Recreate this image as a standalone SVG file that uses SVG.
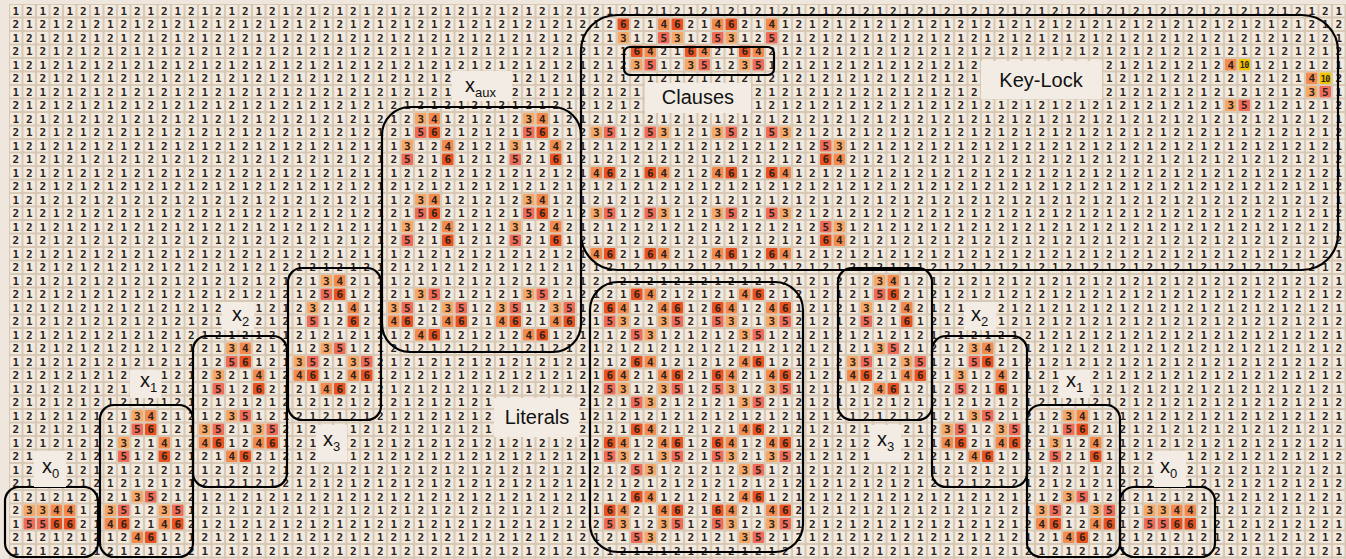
<svg xmlns="http://www.w3.org/2000/svg" width="1346" height="559" viewBox="0 0 1346 559">
<style>
.bg{fill:#efe7dd}
.gap{fill:#d7c8b5}
.cell{fill:#f2eadf}
.k3{fill:#f7a866}.k4{fill:#f48a4c}.k5{fill:#f06b58}.k6{fill:#ec5220}.k10{fill:#eec400}
.g{font-family:"DejaVu Sans Mono",monospace;font-size:11px;font-weight:bold;fill:#2b231c;letter-spacing:6.8774px;white-space:pre}
.e{letter-spacing:0}
.ten{font-family:"DejaVu Sans Mono",monospace;font-size:8.5px;font-weight:bold;fill:#2b231c;text-anchor:middle;letter-spacing:-0.6px}
.box{fill:none;stroke:#000;stroke-width:2.2}
.bd{fill:#f3ece4}
.lb{font-family:"Liberation Sans",Arial,sans-serif;font-size:20px;fill:#111}
.mid{text-anchor:middle}
.sub{font-size:13px}
</style>
<defs>
<pattern id="grid" x="9" y="4" width="13.5" height="13.5" patternUnits="userSpaceOnUse">
<rect x="1" y="1" width="11.5" height="11.5" rx="1" class="cell"/>
</pattern>
<g id="pin">
<rect class="k3" x="28" y="1" width="11.5" height="11.5" rx="1"/>
<rect class="k4" x="41.5" y="1" width="11.5" height="11.5" rx="1"/>
<rect class="k5" x="28" y="14.5" width="11.5" height="11.5" rx="1"/>
<rect class="k6" x="41.5" y="14.5" width="11.5" height="11.5" rx="1"/>
<rect class="k3" x="14.5" y="28" width="11.5" height="11.5" rx="1"/>
<rect class="k4" x="55" y="28" width="11.5" height="11.5" rx="1"/>
<rect class="k5" x="14.5" y="41.5" width="11.5" height="11.5" rx="1"/>
<rect class="k6" x="55" y="41.5" width="11.5" height="11.5" rx="1"/>
</g>
<g id="pout">
<rect class="k3" x="28" y="1" width="11.5" height="11.5" rx="1"/>
<rect class="k5" x="41.5" y="1" width="11.5" height="11.5" rx="1"/>
<rect class="k3" x="1" y="14.5" width="11.5" height="11.5" rx="1"/>
<rect class="k5" x="14.5" y="14.5" width="11.5" height="11.5" rx="1"/>
<rect class="k3" x="55" y="14.5" width="11.5" height="11.5" rx="1"/>
<rect class="k5" x="68.5" y="14.5" width="11.5" height="11.5" rx="1"/>
<rect class="k4" x="1" y="28" width="11.5" height="11.5" rx="1"/>
<rect class="k6" x="14.5" y="28" width="11.5" height="11.5" rx="1"/>
<rect class="k4" x="55" y="28" width="11.5" height="11.5" rx="1"/>
<rect class="k6" x="68.5" y="28" width="11.5" height="11.5" rx="1"/>
<rect class="k4" x="28" y="41.5" width="11.5" height="11.5" rx="1"/>
<rect class="k6" x="41.5" y="41.5" width="11.5" height="11.5" rx="1"/>
</g>
<g id="pla">
<rect class="k6" x="28" y="1" width="11.5" height="11.5" rx="1"/>
<rect class="k4" x="41.5" y="1" width="11.5" height="11.5" rx="1"/>
<rect class="k6" x="1" y="14.5" width="11.5" height="11.5" rx="1"/>
<rect class="k4" x="14.5" y="14.5" width="11.5" height="11.5" rx="1"/>
<rect class="k4" x="55" y="14.5" width="11.5" height="11.5" rx="1"/>
<rect class="k6" x="68.5" y="14.5" width="11.5" height="11.5" rx="1"/>
<rect class="k5" x="1" y="28" width="11.5" height="11.5" rx="1"/>
<rect class="k3" x="14.5" y="28" width="11.5" height="11.5" rx="1"/>
<rect class="k3" x="55" y="28" width="11.5" height="11.5" rx="1"/>
<rect class="k5" x="68.5" y="28" width="11.5" height="11.5" rx="1"/>
<rect class="k5" x="28" y="41.5" width="11.5" height="11.5" rx="1"/>
<rect class="k3" x="41.5" y="41.5" width="11.5" height="11.5" rx="1"/>
</g>
<g id="plb">
<rect class="k4" x="28" y="1" width="11.5" height="11.5" rx="1"/>
<rect class="k6" x="41.5" y="1" width="11.5" height="11.5" rx="1"/>
<rect class="k6" x="1" y="14.5" width="11.5" height="11.5" rx="1"/>
<rect class="k4" x="14.5" y="14.5" width="11.5" height="11.5" rx="1"/>
<rect class="k4" x="55" y="14.5" width="11.5" height="11.5" rx="1"/>
<rect class="k6" x="68.5" y="14.5" width="11.5" height="11.5" rx="1"/>
<rect class="k5" x="1" y="28" width="11.5" height="11.5" rx="1"/>
<rect class="k3" x="14.5" y="28" width="11.5" height="11.5" rx="1"/>
<rect class="k3" x="55" y="28" width="11.5" height="11.5" rx="1"/>
<rect class="k5" x="68.5" y="28" width="11.5" height="11.5" rx="1"/>
<rect class="k3" x="28" y="41.5" width="11.5" height="11.5" rx="1"/>
<rect class="k5" x="41.5" y="41.5" width="11.5" height="11.5" rx="1"/>
</g>
<g id="px0">
<rect class="k3" x="14.5" y="1" width="11.5" height="11.5" rx="1"/>
<rect class="k3" x="28" y="1" width="11.5" height="11.5" rx="1"/>
<rect class="k4" x="41.5" y="1" width="11.5" height="11.5" rx="1"/>
<rect class="k4" x="55" y="1" width="11.5" height="11.5" rx="1"/>
<rect class="k5" x="14.5" y="14.5" width="11.5" height="11.5" rx="1"/>
<rect class="k5" x="28" y="14.5" width="11.5" height="11.5" rx="1"/>
<rect class="k6" x="41.5" y="14.5" width="11.5" height="11.5" rx="1"/>
<rect class="k6" x="55" y="14.5" width="11.5" height="11.5" rx="1"/>
</g>
<g id="pcl">
<rect class="k6" x="1" y="1" width="11.5" height="11.5" rx="1"/>
<rect class="k4" x="41.5" y="1" width="11.5" height="11.5" rx="1"/>
<rect class="k3" x="1" y="14.5" width="11.5" height="11.5" rx="1"/>
<rect class="k5" x="41.5" y="14.5" width="11.5" height="11.5" rx="1"/>
<rect class="k6" x="14.5" y="28" width="11.5" height="11.5" rx="1"/>
<rect class="k4" x="28" y="28" width="11.5" height="11.5" rx="1"/>
<rect class="k3" x="14.5" y="41.5" width="11.5" height="11.5" rx="1"/>
<rect class="k5" x="28" y="41.5" width="11.5" height="11.5" rx="1"/>
</g>
<g id="pkc">
<rect class="k3" x="1" y="1" width="11.5" height="11.5" rx="1"/>
<rect class="k5" x="14.5" y="1" width="11.5" height="11.5" rx="1"/>
<rect class="k5" x="55" y="1" width="11.5" height="11.5" rx="1"/>
<rect class="k3" x="68.5" y="1" width="11.5" height="11.5" rx="1"/>
<rect class="k3" x="122.5" y="1" width="11.5" height="11.5" rx="1"/>
<rect class="k5" x="136" y="1" width="11.5" height="11.5" rx="1"/>
<rect class="k5" x="176.5" y="1" width="11.5" height="11.5" rx="1"/>
<rect class="k3" x="190" y="1" width="11.5" height="11.5" rx="1"/>
<rect class="k5" x="230.5" y="14.5" width="11.5" height="11.5" rx="1"/>
<rect class="k3" x="244" y="14.5" width="11.5" height="11.5" rx="1"/>
<rect class="k6" x="230.5" y="28" width="11.5" height="11.5" rx="1"/>
<rect class="k4" x="244" y="28" width="11.5" height="11.5" rx="1"/>
<rect class="k4" x="1" y="41.5" width="11.5" height="11.5" rx="1"/>
<rect class="k6" x="14.5" y="41.5" width="11.5" height="11.5" rx="1"/>
<rect class="k6" x="55" y="41.5" width="11.5" height="11.5" rx="1"/>
<rect class="k4" x="68.5" y="41.5" width="11.5" height="11.5" rx="1"/>
<rect class="k4" x="122.5" y="41.5" width="11.5" height="11.5" rx="1"/>
<rect class="k6" x="136" y="41.5" width="11.5" height="11.5" rx="1"/>
<rect class="k6" x="176.5" y="41.5" width="11.5" height="11.5" rx="1"/>
<rect class="k4" x="190" y="41.5" width="11.5" height="11.5" rx="1"/>
</g>
</defs>
<rect x="0" y="0" width="1346" height="559" class="bg"/>
<rect x="9" y="4" width="1337" height="555" class="gap"/>
<rect x="9" y="4" width="1337" height="555" fill="url(#grid)"/>
<g id="cells">
<use href="#pin" x="387" y="112"/><use href="#pin" x="495" y="112"/>
<use href="#pin" x="387" y="193"/><use href="#pin" x="495" y="193"/>
<use href="#pout" x="387" y="287.5"/><use href="#pout" x="495" y="287.5"/>
<use href="#pin" x="292.5" y="274"/><use href="#pout" x="292.5" y="341.5"/>
<use href="#pin" x="198" y="341.5"/><use href="#pout" x="198" y="409"/>
<use href="#pin" x="103.5" y="409"/><use href="#pout" x="103.5" y="490"/>
<use href="#px0" x="9" y="503.5"/>
<use href="#pin" x="846" y="274"/><use href="#pout" x="846" y="341.5"/>
<use href="#pin" x="940.5" y="341.5"/><use href="#pout" x="940.5" y="409"/>
<use href="#pin" x="1035" y="409"/><use href="#pout" x="1035" y="490"/>
<use href="#px0" x="1129.5" y="503.5"/>
<use href="#pcl" x="616.5" y="17.5"/><use href="#pcl" x="670.5" y="17.5"/><use href="#pcl" x="724.5" y="17.5"/>
<use href="#pkc" x="589.5" y="125.5"/><use href="#pkc" x="589.5" y="206.5"/>
<use href="#pla" x="603" y="287.5"/><use href="#plb" x="711" y="287.5"/>
<use href="#pla" x="603" y="355"/><use href="#plb" x="711" y="355"/>
<use href="#pla" x="603" y="422.5"/><use href="#plb" x="711" y="422.5"/>
<use href="#pla" x="603" y="490"/><use href="#plb" x="711" y="490"/>
<rect class="k4" x="1225" y="59" width="11.5" height="11.5" rx="1"/>
<rect class="k10" x="1238.5" y="59" width="11.5" height="11.5" rx="1"/>
<rect class="k4" x="1306" y="72.5" width="11.5" height="11.5" rx="1"/>
<rect class="k10" x="1319.5" y="72.5" width="11.5" height="11.5" rx="1"/>
<rect class="k3" x="1306" y="86" width="11.5" height="11.5" rx="1"/>
<rect class="k5" x="1319.5" y="86" width="11.5" height="11.5" rx="1"/>
<rect class="k3" x="1225" y="99.5" width="11.5" height="11.5" rx="1"/>
<rect class="k5" x="1238.5" y="99.5" width="11.5" height="11.5" rx="1"/>
</g>
<g id="digits" class="g">
<text y="14.75"><tspan x="12.44">1212121212</tspan><tspan x="147.44">1212121212</tspan><tspan x="282.44">1212121212</tspan><tspan x="417.44">1212121212</tspan><tspan x="552.44">1212121212</tspan><tspan x="687.44">1212121212</tspan><tspan x="822.44">1212121212</tspan><tspan x="957.44">1212121212</tspan><tspan x="1092.44">1212121212</tspan><tspan x="1227.44">12121212</tspan><tspan class="e" x="1335.44">1</tspan></text>
<text y="28.25"><tspan x="12.44">2121212121</tspan><tspan x="147.44">2121212121</tspan><tspan x="282.44">2121212121</tspan><tspan x="417.44">2121212121</tspan><tspan x="552.44">2121262146</tspan><tspan x="687.44">2146214121</tspan><tspan x="822.44">2121212121</tspan><tspan x="957.44">2121212121</tspan><tspan x="1092.44">2121212121</tspan><tspan x="1227.44">21212121</tspan><tspan class="e" x="1335.44">2</tspan></text>
<text y="41.75"><tspan x="12.44">1212121212</tspan><tspan x="147.44">1212121212</tspan><tspan x="282.44">1212121212</tspan><tspan x="417.44">1212121212</tspan><tspan x="552.44">1212131253</tspan><tspan x="687.44">1253125212</tspan><tspan x="822.44">1212121212</tspan><tspan x="957.44">1212121212</tspan><tspan x="1092.44">1212121212</tspan><tspan x="1227.44">12121212</tspan><tspan class="e" x="1335.44">1</tspan></text>
<text y="55.25"><tspan x="12.44">2121212121</tspan><tspan x="147.44">2121212121</tspan><tspan x="282.44">2121212121</tspan><tspan x="417.44">2121212121</tspan><tspan x="552.44">2121216421</tspan><tspan x="687.44">6421642121</tspan><tspan x="822.44">2121212121</tspan><tspan x="957.44">2121212121</tspan><tspan x="1092.44">2121212121</tspan><tspan x="1227.44">21212121</tspan><tspan class="e" x="1335.44">2</tspan></text>
<text y="68.75"><tspan x="12.44">1212121212</tspan><tspan x="147.44">1212121212</tspan><tspan x="282.44">1212121212</tspan><tspan x="417.44">1212121212</tspan><tspan x="552.44">1212123512</tspan><tspan x="687.44">3512351212</tspan><tspan x="822.44">1212121212</tspan><tspan x="957.44">12</tspan><tspan x="1105.94">212121212</tspan><tspan x="1227.44">4</tspan><tspan x="1254.44">121212</tspan><tspan class="e" x="1335.44">1</tspan></text>
<text y="82.25"><tspan x="12.44">2121212121</tspan><tspan x="147.44">2121212121</tspan><tspan x="282.44">2121212121</tspan><tspan x="417.44">212</tspan><tspan x="511.94">121</tspan><tspan x="552.44">2121212121</tspan><tspan x="687.44">2121212121</tspan><tspan x="822.44">2121212121</tspan><tspan x="957.44">21</tspan><tspan x="1105.94">121212121</tspan><tspan x="1227.44">2121214</tspan><tspan class="e" x="1335.44">2</tspan></text>
<text y="95.75"><tspan x="12.44">1212121212</tspan><tspan x="147.44">1212121212</tspan><tspan x="282.44">1212121212</tspan><tspan x="417.44">121</tspan><tspan x="511.94">212</tspan><tspan x="552.44">1212121</tspan><tspan x="754.94">21212</tspan><tspan x="822.44">1212121212</tspan><tspan x="957.44">12</tspan><tspan x="1105.94">212121212</tspan><tspan x="1227.44">12121235</tspan><tspan class="e" x="1335.44">1</tspan></text>
<text y="109.25"><tspan x="12.44">2121212121</tspan><tspan x="147.44">2121212121</tspan><tspan x="282.44">2121212121</tspan><tspan x="417.44">2121212121</tspan><tspan x="552.44">2121212</tspan><tspan x="754.94">12121</tspan><tspan x="822.44">2121212121</tspan><tspan x="957.44">2121212121</tspan><tspan x="1092.44">2121212121</tspan><tspan x="1227.44">35212121</tspan><tspan class="e" x="1335.44">2</tspan></text>
<text y="122.75"><tspan x="12.44">1212121212</tspan><tspan x="147.44">1212121212</tspan><tspan x="282.44">1212121212</tspan><tspan x="417.44">3412121234</tspan><tspan x="552.44">1212121212</tspan><tspan x="687.44">1212121212</tspan><tspan x="822.44">1212121212</tspan><tspan x="957.44">1212121212</tspan><tspan x="1092.44">1212121212</tspan><tspan x="1227.44">12121212</tspan><tspan class="e" x="1335.44">1</tspan></text>
<text y="136.25"><tspan x="12.44">2121212121</tspan><tspan x="147.44">2121212121</tspan><tspan x="282.44">2121212121</tspan><tspan x="417.44">5621212156</tspan><tspan x="552.44">2123512531</tspan><tspan x="687.44">2135215321</tspan><tspan x="822.44">2121212121</tspan><tspan x="957.44">2121212121</tspan><tspan x="1092.44">2121212121</tspan><tspan x="1227.44">21212121</tspan><tspan class="e" x="1335.44">2</tspan></text>
<text y="149.75"><tspan x="12.44">1212121212</tspan><tspan x="147.44">1212121212</tspan><tspan x="282.44">1212121213</tspan><tspan x="417.44">1242121312</tspan><tspan x="552.44">4212121212</tspan><tspan x="687.44">1212121212</tspan><tspan x="822.44">5312121212</tspan><tspan x="957.44">1212121212</tspan><tspan x="1092.44">1212121212</tspan><tspan x="1227.44">12121212</tspan><tspan class="e" x="1335.44">1</tspan></text>
<text y="163.25"><tspan x="12.44">2121212121</tspan><tspan x="147.44">2121212121</tspan><tspan x="282.44">2121212125</tspan><tspan x="417.44">2161212521</tspan><tspan x="552.44">6121212121</tspan><tspan x="687.44">2121212121</tspan><tspan x="822.44">6421212121</tspan><tspan x="957.44">2121212121</tspan><tspan x="1092.44">2121212121</tspan><tspan x="1227.44">21212121</tspan><tspan class="e" x="1335.44">2</tspan></text>
<text y="176.75"><tspan x="12.44">1212121212</tspan><tspan x="147.44">1212121212</tspan><tspan x="282.44">1212121212</tspan><tspan x="417.44">1212121212</tspan><tspan x="552.44">1214621642</tspan><tspan x="687.44">1246126412</tspan><tspan x="822.44">1212121212</tspan><tspan x="957.44">1212121212</tspan><tspan x="1092.44">1212121212</tspan><tspan x="1227.44">12121212</tspan><tspan class="e" x="1335.44">1</tspan></text>
<text y="190.25"><tspan x="12.44">2121212121</tspan><tspan x="147.44">2121212121</tspan><tspan x="282.44">2121212121</tspan><tspan x="417.44">2121212121</tspan><tspan x="552.44">2121212121</tspan><tspan x="687.44">2121212121</tspan><tspan x="822.44">2121212121</tspan><tspan x="957.44">2121212121</tspan><tspan x="1092.44">2121212121</tspan><tspan x="1227.44">21212121</tspan><tspan class="e" x="1335.44">2</tspan></text>
<text y="203.75"><tspan x="12.44">1212121212</tspan><tspan x="147.44">1212121212</tspan><tspan x="282.44">1212121212</tspan><tspan x="417.44">3412121234</tspan><tspan x="552.44">1212121212</tspan><tspan x="687.44">1212121212</tspan><tspan x="822.44">1212121212</tspan><tspan x="957.44">1212121212</tspan><tspan x="1092.44">1212121212</tspan><tspan x="1227.44">12121212</tspan><tspan class="e" x="1335.44">1</tspan></text>
<text y="217.25"><tspan x="12.44">2121212121</tspan><tspan x="147.44">2121212121</tspan><tspan x="282.44">2121212121</tspan><tspan x="417.44">5621212156</tspan><tspan x="552.44">2123512531</tspan><tspan x="687.44">2135215321</tspan><tspan x="822.44">2121212121</tspan><tspan x="957.44">2121212121</tspan><tspan x="1092.44">2121212121</tspan><tspan x="1227.44">21212121</tspan><tspan class="e" x="1335.44">2</tspan></text>
<text y="230.75"><tspan x="12.44">1212121212</tspan><tspan x="147.44">1212121212</tspan><tspan x="282.44">1212121213</tspan><tspan x="417.44">1242121312</tspan><tspan x="552.44">4212121212</tspan><tspan x="687.44">1212121212</tspan><tspan x="822.44">5312121212</tspan><tspan x="957.44">1212121212</tspan><tspan x="1092.44">1212121212</tspan><tspan x="1227.44">12121212</tspan><tspan class="e" x="1335.44">1</tspan></text>
<text y="244.25"><tspan x="12.44">2121212121</tspan><tspan x="147.44">2121212121</tspan><tspan x="282.44">2121212125</tspan><tspan x="417.44">2161212521</tspan><tspan x="552.44">6121212121</tspan><tspan x="687.44">2121212121</tspan><tspan x="822.44">6421212121</tspan><tspan x="957.44">2121212121</tspan><tspan x="1092.44">2121212121</tspan><tspan x="1227.44">21212121</tspan><tspan class="e" x="1335.44">2</tspan></text>
<text y="257.75"><tspan x="12.44">1212121212</tspan><tspan x="147.44">1212121212</tspan><tspan x="282.44">1212121212</tspan><tspan x="417.44">1212121212</tspan><tspan x="552.44">1214621642</tspan><tspan x="687.44">1246126412</tspan><tspan x="822.44">1212121212</tspan><tspan x="957.44">1212121212</tspan><tspan x="1092.44">1212121212</tspan><tspan x="1227.44">12121212</tspan><tspan class="e" x="1335.44">1</tspan></text>
<text y="271.25"><tspan x="12.44">2121212121</tspan><tspan x="147.44">2121212121</tspan><tspan x="282.44">2121212121</tspan><tspan x="417.44">2121212121</tspan><tspan x="552.44">2121212121</tspan><tspan x="687.44">2121212121</tspan><tspan x="822.44">2121212121</tspan><tspan x="957.44">2121212121</tspan><tspan x="1092.44">2121212121</tspan><tspan x="1227.44">21212121</tspan><tspan class="e" x="1335.44">2</tspan></text>
<text y="284.75"><tspan x="12.44">1212121212</tspan><tspan x="147.44">1212121212</tspan><tspan x="282.44">1213421212</tspan><tspan x="417.44">1212121212</tspan><tspan x="552.44">1212121212</tspan><tspan x="687.44">1212121212</tspan><tspan x="822.44">1212341212</tspan><tspan x="957.44">1212121212</tspan><tspan x="1092.44">1212121212</tspan><tspan x="1227.44">12121212</tspan><tspan class="e" x="1335.44">1</tspan></text>
<text y="298.25"><tspan x="12.44">2121212121</tspan><tspan x="147.44">2121212121</tspan><tspan x="282.44">2125612121</tspan><tspan x="417.44">3521212135</tspan><tspan x="552.44">2121216421</tspan><tspan x="687.44">2121462121</tspan><tspan x="822.44">2121562121</tspan><tspan x="957.44">2121212121</tspan><tspan x="1092.44">2121212121</tspan><tspan x="1227.44">21212121</tspan><tspan class="e" x="1335.44">2</tspan></text>
<text y="311.75"><tspan x="12.44">1212121212</tspan><tspan x="147.44">121212</tspan><tspan x="255.44">12</tspan><tspan x="282.44">1232141235</tspan><tspan x="417.44">1235123512</tspan><tspan x="552.44">3512641246</tspan><tspan x="687.44">1264124612</tspan><tspan x="822.44">1213124212</tspan><tspan x="957.44">1</tspan><tspan x="997.94">2121212</tspan><tspan x="1092.44">1212121212</tspan><tspan x="1227.44">12121212</tspan><tspan class="e" x="1335.44">1</tspan></text>
<text y="325.25"><tspan x="12.44">2121212121</tspan><tspan x="147.44">212121</tspan><tspan x="255.44">21</tspan><tspan x="282.44">2151262146</tspan><tspan x="417.44">2146214621</tspan><tspan x="552.44">4621532135</tspan><tspan x="687.44">2153213521</tspan><tspan x="822.44">2125216121</tspan><tspan x="957.44">2</tspan><tspan x="997.94">1212121</tspan><tspan x="1092.44">2121212121</tspan><tspan x="1227.44">21212121</tspan><tspan class="e" x="1335.44">2</tspan></text>
<text y="338.75"><tspan x="12.44">1212121212</tspan><tspan x="147.44">1212121212</tspan><tspan x="282.44">1212121212</tspan><tspan x="417.44">4612121246</tspan><tspan x="552.44">1212125312</tspan><tspan x="687.44">1212351212</tspan><tspan x="822.44">1212121212</tspan><tspan x="957.44">1212121212</tspan><tspan x="1092.44">1212121212</tspan><tspan x="1227.44">12121212</tspan><tspan class="e" x="1335.44">1</tspan></text>
<text y="352.25"><tspan x="12.44">2121212121</tspan><tspan x="147.44">2121213421</tspan><tspan x="282.44">2123512121</tspan><tspan x="417.44">2121212121</tspan><tspan x="552.44">2121212121</tspan><tspan x="687.44">2121212121</tspan><tspan x="822.44">2121352121</tspan><tspan x="957.44">2341212121</tspan><tspan x="1092.44">2121212121</tspan><tspan x="1227.44">21212121</tspan><tspan class="e" x="1335.44">2</tspan></text>
<text y="365.75"><tspan x="12.44">1212121212</tspan><tspan x="147.44">1212125612</tspan><tspan x="282.44">1352135212</tspan><tspan x="417.44">1212121212</tspan><tspan x="552.44">1212126412</tspan><tspan x="687.44">1212461212</tspan><tspan x="822.44">1235123512</tspan><tspan x="957.44">1562121212</tspan><tspan x="1092.44">1212121212</tspan><tspan x="1227.44">12121212</tspan><tspan class="e" x="1335.44">1</tspan></text>
<text y="379.25"><tspan x="12.44">212121212</tspan><tspan x="160.94">121232141</tspan><tspan x="282.44">2461246121</tspan><tspan x="417.44">2121212121</tspan><tspan x="552.44">2121642146</tspan><tspan x="687.44">2164214621</tspan><tspan x="822.44">2146214621</tspan><tspan x="957.44">31242121</tspan><tspan x="1092.44">2121212121</tspan><tspan x="1227.44">21212121</tspan><tspan class="e" x="1335.44">2</tspan></text>
<text y="392.75"><tspan x="12.44">121212121</tspan><tspan x="160.94">212151262</tspan><tspan x="282.44">1214621212</tspan><tspan x="417.44">1212121212</tspan><tspan x="552.44">1212531235</tspan><tspan x="687.44">1253123512</tspan><tspan x="822.44">1212461212</tspan><tspan x="957.44">52161212</tspan><tspan x="1092.44">1212121212</tspan><tspan x="1227.44">12121212</tspan><tspan class="e" x="1335.44">1</tspan></text>
<text y="406.25"><tspan x="12.44">2121212121</tspan><tspan x="147.44">2121212121</tspan><tspan x="282.44">2121212121</tspan><tspan x="417.44">212121</tspan><tspan x="579.44">21215321</tspan><tspan x="687.44">2121352121</tspan><tspan x="822.44">2121212121</tspan><tspan x="957.44">2121212121</tspan><tspan x="1092.44">2121212121</tspan><tspan x="1227.44">21212121</tspan><tspan class="e" x="1335.44">2</tspan></text>
<text y="419.75"><tspan x="12.44">1212121213</tspan><tspan x="147.44">4212123512</tspan><tspan x="282.44">1212121212</tspan><tspan x="417.44">121212</tspan><tspan x="579.44">12121212</tspan><tspan x="687.44">1212121212</tspan><tspan x="822.44">1212121212</tspan><tspan x="957.44">1352121234</tspan><tspan x="1092.44">1212121212</tspan><tspan x="1227.44">12121212</tspan><tspan class="e" x="1335.44">1</tspan></text>
<text y="433.25"><tspan x="12.44">2121212125</tspan><tspan x="147.44">6121352135</tspan><tspan x="282.44">212</tspan><tspan x="349.94">12121</tspan><tspan x="417.44">212121</tspan><tspan x="579.44">21216421</tspan><tspan x="687.44">2121462121</tspan><tspan x="822.44">2121</tspan><tspan x="903.44">2123</tspan><tspan x="957.44">5123512156</tspan><tspan x="1092.44">2121212121</tspan><tspan x="1227.44">21212121</tspan><tspan class="e" x="1335.44">2</tspan></text>
<text y="446.75"><tspan x="12.44">1212121232</tspan><tspan x="147.44">1412461246</tspan><tspan x="282.44">121</tspan><tspan x="349.94">21212</tspan><tspan x="417.44">1212121212</tspan><tspan x="552.44">1212641246</tspan><tspan x="687.44">1264124612</tspan><tspan x="822.44">1212</tspan><tspan x="903.44">1214</tspan><tspan x="957.44">6214621312</tspan><tspan x="1092.44">4212121212</tspan><tspan x="1227.44">12121212</tspan><tspan class="e" x="1335.44">1</tspan></text>
<text y="460.25"><tspan x="12.44">21</tspan><tspan x="66.44">212151</tspan><tspan x="147.44">2621214621</tspan><tspan x="282.44">212</tspan><tspan x="349.94">12121</tspan><tspan x="417.44">2121212121</tspan><tspan x="552.44">2121532135</tspan><tspan x="687.44">2153213521</tspan><tspan x="822.44">2121</tspan><tspan x="903.44">2121</tspan><tspan x="957.44">2461212521</tspan><tspan x="1092.44">61212</tspan><tspan x="1186.94">121</tspan><tspan x="1227.44">21212121</tspan><tspan class="e" x="1335.44">2</tspan></text>
<text y="473.75"><tspan x="12.44">12</tspan><tspan x="66.44">121212</tspan><tspan x="147.44">1212121212</tspan><tspan x="282.44">1212121212</tspan><tspan x="417.44">1212121212</tspan><tspan x="552.44">1212125312</tspan><tspan x="687.44">1212351212</tspan><tspan x="822.44">1212121212</tspan><tspan x="957.44">1212121212</tspan><tspan x="1092.44">12121</tspan><tspan x="1186.94">212</tspan><tspan x="1227.44">12121212</tspan><tspan class="e" x="1335.44">1</tspan></text>
<text y="487.25"><tspan x="12.44">21</tspan><tspan x="66.44">212121</tspan><tspan x="147.44">2121212121</tspan><tspan x="282.44">2121212121</tspan><tspan x="417.44">2121212121</tspan><tspan x="552.44">2121212121</tspan><tspan x="687.44">2121212121</tspan><tspan x="822.44">2121212121</tspan><tspan x="957.44">2121212121</tspan><tspan x="1092.44">21212</tspan><tspan x="1186.94">121</tspan><tspan x="1227.44">21212121</tspan><tspan class="e" x="1335.44">2</tspan></text>
<text y="500.75"><tspan x="12.44">1212121213</tspan><tspan x="147.44">5212121212</tspan><tspan x="282.44">1212121212</tspan><tspan x="417.44">1212121212</tspan><tspan x="552.44">1212126412</tspan><tspan x="687.44">1212461212</tspan><tspan x="822.44">1212121212</tspan><tspan x="957.44">1212121235</tspan><tspan x="1092.44">1212121212</tspan><tspan x="1227.44">12121212</tspan><tspan class="e" x="1335.44">1</tspan></text>
<text y="514.25"><tspan x="12.44">2334412351</tspan><tspan x="147.44">2351212121</tspan><tspan x="282.44">2121212121</tspan><tspan x="417.44">2121212121</tspan><tspan x="552.44">2121642146</tspan><tspan x="687.44">2164214621</tspan><tspan x="822.44">2121212121</tspan><tspan x="957.44">2121213521</tspan><tspan x="1092.44">3521334421</tspan><tspan x="1227.44">21212121</tspan><tspan class="e" x="1335.44">2</tspan></text>
<text y="527.75"><tspan x="12.44">1556621462</tspan><tspan x="147.44">1462121212</tspan><tspan x="282.44">1212121212</tspan><tspan x="417.44">1212121212</tspan><tspan x="552.44">1212531235</tspan><tspan x="687.44">1253123512</tspan><tspan x="822.44">1212121212</tspan><tspan x="957.44">1212124612</tspan><tspan x="1092.44">4612556612</tspan><tspan x="1227.44">12121212</tspan><tspan class="e" x="1335.44">1</tspan></text>
<text y="541.25"><tspan x="12.44">2121212124</tspan><tspan x="147.44">6121212121</tspan><tspan x="282.44">2121212121</tspan><tspan x="417.44">2121212121</tspan><tspan x="552.44">2121215321</tspan><tspan x="687.44">2121352121</tspan><tspan x="822.44">2121212121</tspan><tspan x="957.44">2121212146</tspan><tspan x="1092.44">2121212121</tspan><tspan x="1227.44">21212121</tspan><tspan class="e" x="1335.44">2</tspan></text>
<text y="554.75"><tspan x="12.44">1212121212</tspan><tspan x="147.44">1212121212</tspan><tspan x="282.44">1212121212</tspan><tspan x="417.44">1212121212</tspan><tspan x="552.44">1212121212</tspan><tspan x="687.44">1212121212</tspan><tspan x="822.44">1212121212</tspan><tspan x="957.44">1212121212</tspan><tspan x="1092.44">1212121212</tspan><tspan x="1227.44">12121212</tspan><tspan class="e" x="1335.44">1</tspan></text>
</g>
<text class="ten" x="1244.25" y="68">10</text>
<text class="ten" x="1325.25" y="81.5">10</text>
<g id="boxes">
<rect class="box" x="5" y="487" width="93" height="70" rx="14"/>
<rect class="box" x="100" y="405" width="93" height="152" rx="14"/>
<rect class="box" x="193" y="336" width="94" height="151" rx="14"/>
<rect class="box" x="288" y="268" width="93" height="152" rx="14"/>
<rect class="box" x="382" y="107" width="199" height="245" rx="28"/>
<rect class="box" x="624" y="47" width="150" height="28" rx="6"/>
<rect class="box" x="581" y="15" width="757" height="255" rx="36"/>
<rect class="box" x="590" y="282" width="213" height="270" rx="28"/>
<rect class="box" x="838" y="268" width="94" height="152" rx="14"/>
<rect class="box" x="932" y="336" width="95" height="151" rx="14"/>
<rect class="box" x="1027" y="405" width="93" height="152" rx="14"/>
<rect class="box" x="1120" y="487" width="95" height="70" rx="14"/>
</g>
<g id="labels">
<rect class="bd" x="981" y="61" width="121" height="38"/>
<text class="lb mid" x="1041" y="87">Key-Lock</text>
<rect class="bd" x="645" y="83" width="106" height="30"/>
<text class="lb mid" x="698" y="104">Clauses</text>
<rect class="bd" x="494" y="398" width="85" height="39"/>
<text class="lb mid" x="537" y="424">Literals</text>
<rect class="bd" x="452" y="71" width="60" height="30"/>
<text class="lb" x="465" y="92">x<tspan class="sub" dy="5">aux</tspan></text>
<rect class="bd" x="34" y="451" width="32" height="36"/>
<text class="lb" x="42" y="473">x<tspan class="sub" dy="5">0</tspan></text>
<rect class="bd" x="130" y="370" width="31" height="28"/>
<text class="lb" x="140" y="387">x<tspan class="sub" dy="5">1</tspan></text>
<rect class="bd" x="222" y="302" width="32" height="28"/>
<text class="lb" x="232" y="321">x<tspan class="sub" dy="5">2</tspan></text>
<rect class="bd" x="316" y="425" width="31" height="37"/>
<text class="lb" x="323" y="446">x<tspan class="sub" dy="5">3</tspan></text>
<rect class="bd" x="870" y="425" width="31" height="37"/>
<text class="lb" x="877" y="446">x<tspan class="sub" dy="5">3</tspan></text>
<rect class="bd" x="964" y="302" width="32" height="28"/>
<text class="lb" x="971" y="321">x<tspan class="sub" dy="5">2</tspan></text>
<rect class="bd" x="1059" y="370" width="31" height="28"/>
<text class="lb" x="1066" y="387">x<tspan class="sub" dy="5">1</tspan></text>
<rect class="bd" x="1154" y="451" width="32" height="36"/>
<text class="lb" x="1160" y="473">x<tspan class="sub" dy="5">0</tspan></text>
</g>
</svg>
